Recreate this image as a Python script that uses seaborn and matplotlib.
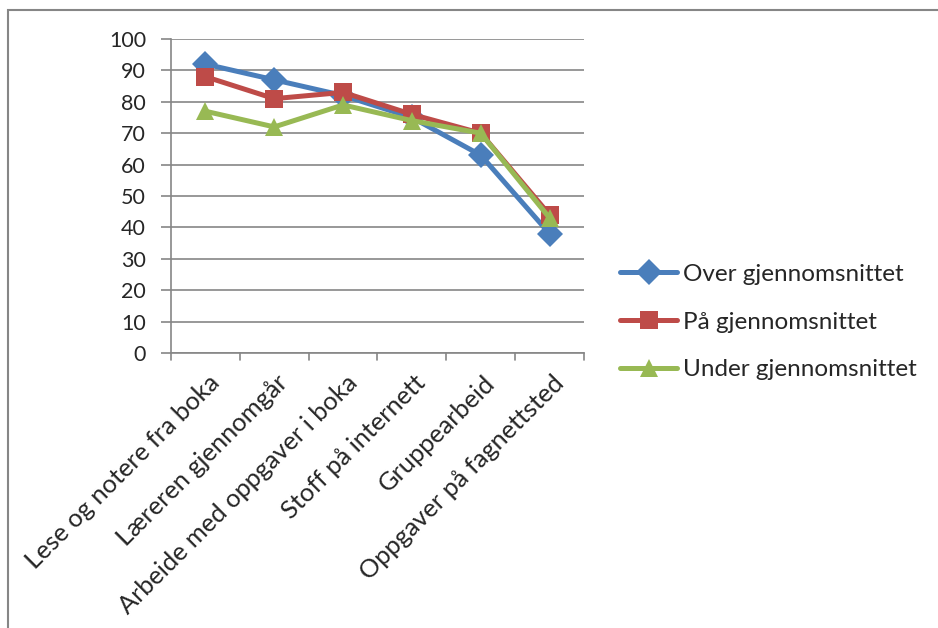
import matplotlib
matplotlib.use("Agg")
import matplotlib.pyplot as plt
import matplotlib.patches as mpatches
import matplotlib.transforms as mtransforms
import seaborn as sns
import pandas as pd

categories = [
    "Lese og notere fra boka",
    "Læreren gjennomgår",
    "Arbeide med oppgaver i boka",
    "Stoff på internett",
    "Gruppearbeid",
    "Oppgaver på fagnettsted",
]
over = [92, 87, 82, 75, 63, 38]
paa = [88, 81, 83, 76, 70, 44]
under = [77, 72, 79, 74, 70, 43]
series_names = ["Over gjennomsnittet", "På gjennomsnittet", "Under gjennomsnittet"]
y_ticks = list(range(0, 101, 10))

rows = []
for name, vals in zip(series_names, [over, paa, under]):
    for i, v in enumerate(vals):
        rows.append({"pos": i, "verdi": v, "gruppe": name})
df = pd.DataFrame(rows)

sns.set_theme(style="white")
plt.rcParams["font.family"] = ["Lato", "DejaVu Sans"]

fig = plt.figure(figsize=(9.38, 6.28), dpi=100)
ax = fig.add_axes([0.1823, 0.4379, 0.4403, 0.5])

palette = {series_names[0]: "#4A7EBB", series_names[1]: "#BE4B48", series_names[2]: "#98B954"}
markers = {series_names[0]: "D", series_names[1]: "s", series_names[2]: "^"}

sns.lineplot(data=df, x="pos", y="verdi", hue="gruppe", style="gruppe",
             markers=markers, dashes=False, palette=palette, linewidth=3.6,
             markersize=13.5, markeredgewidth=0, ax=ax)

ax.set_xlim(-0.5, len(categories) - 0.5)
ax.set_ylim(0, 100)
ax.set_yticks(y_ticks)
ax.set_yticklabels([str(t) for t in y_ticks], fontsize=15.5)
ax.set_xticks(range(len(categories)))
ax.set_xticklabels(categories, rotation=45, ha="right", rotation_mode="anchor", fontsize=18.3)
ax.tick_params(axis="x", length=0, pad=13)
ax.tick_params(axis="y", length=7, color="#868686", width=1.2, pad=11, left=True)
shift = mtransforms.ScaledTranslation(2 / 100, 0, fig.dpi_scale_trans)
for lab in ax.get_xticklabels():
    lab.set_transform(lab.get_transform() + shift)
ax.set_xlabel("")
ax.set_ylabel("")

ax.grid(axis="y", color="#868686", linewidth=1.2)
ax.set_axisbelow(True)
for s in ["top", "right"]:
    ax.spines[s].set_visible(False)
for s in ["left", "bottom"]:
    ax.spines[s].set_color("#868686")
    ax.spines[s].set_linewidth(1.2)

# small tick marks between categories below the axis
for b in [i - 0.5 for i in range(len(categories) + 1)]:
    ax.plot([b, b], [0, -2.3], color="#868686", linewidth=1.2, clip_on=False)

handles, labels = ax.get_legend_handles_labels()
fig.legend(handles, labels, loc="center left", bbox_to_anchor=(620 / 938, (628 - 322) / 628),
           frameon=False, fontsize=17.5, handlelength=2.35, handletextpad=0.25,
           labelspacing=1.1, borderaxespad=0, borderpad=0)
ax.get_legend().remove()

# outer chart frame
fig.patches.append(mpatches.Rectangle((8 / 938, -0.1), 1.2, (628 - 10) / 628 + 0.1,
                                      transform=fig.transFigure, fill=False,
                                      edgecolor="#868686", linewidth=1.5))

fig.savefig("out.png", dpi=100)
